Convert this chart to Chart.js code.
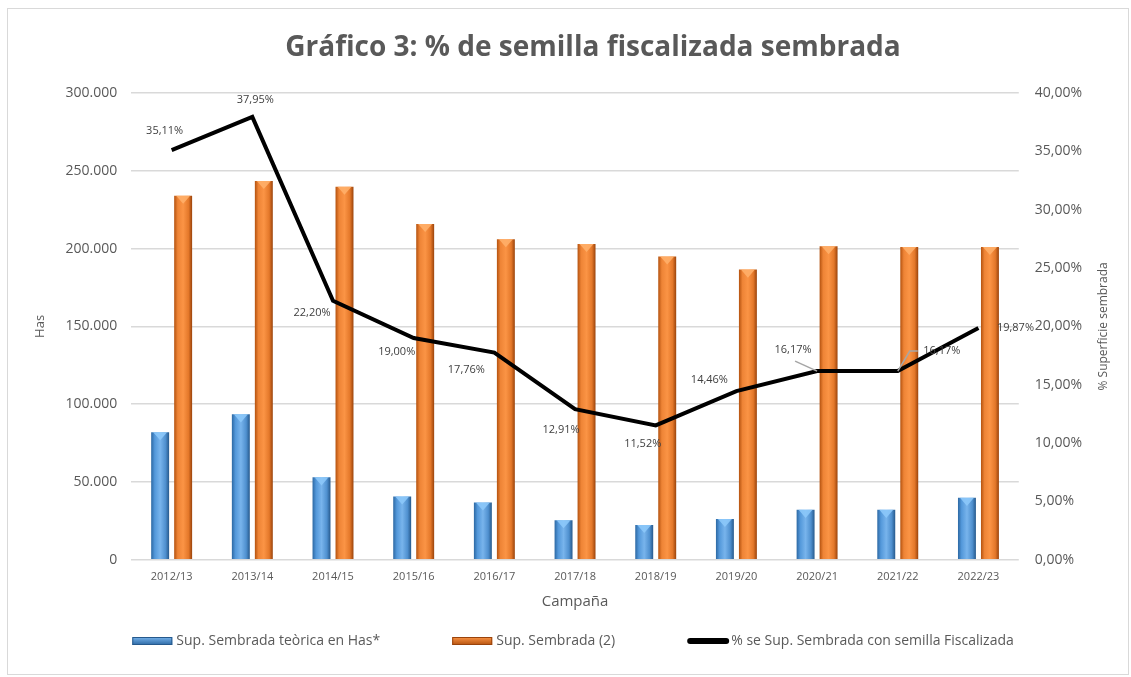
<!DOCTYPE html>
<html>
<head>
<meta charset="utf-8">
<script src="https://cdn.jsdelivr.net/npm/chart.js@4"></script>
<style>
  html, body { margin: 0; padding: 0; background: #fff; }
  #wrap { position: absolute; left: 7px; top: 8px; width: 1122px; height: 667px; border: 1px solid #d9d9d9; box-sizing: border-box; }
  #chart { position: absolute; left: -8px; top: -9px; }
</style>
</head>
<body>
<div id="wrap"><canvas id="chart" width="1131" height="677"></canvas></div>
<script>
const campanas = ['2012/13', '2013/14', '2014/15', '2015/16', '2016/17', '2017/18', '2018/19', '2019/20', '2020/21', '2021/22', '2022/23'];
const supTeorica = [82000, 93500, 53000, 40700, 36800, 25400, 22400, 26300, 32100, 32100, 39800];
const supSembrada = [234000, 243500, 239800, 215800, 206000, 203000, 195000, 186500, 201500, 201000, 201000];
const pctFiscalizada = [35.11, 37.95, 22.20, 19.00, 17.76, 12.91, 11.52, 14.46, 16.17, 16.17, 19.87];

// label offsets for the % line (pixels from the point)
const labelOffsets = [[-7, -19], [3, -17], [-21, 12], [-17, 14], [-28, 17], [-14, 21], [-13, 18], [-27, -11], [-24, -21], [44, -20], [37, 0]];

const grey = '#595959';
const font = '"Open Sans", sans-serif';

function fmtMiles(v) {
  return v === 0 ? '0' : v.toLocaleString('de-DE');
}
function fmtPct(v, d) {
  return v.toFixed(d).replace('.', ',') + '%';
}

const barCols = [
  ['#2c68a3', '#5398da', '#78b4ec', '#4f90cf', '#26598c'],
  ['#b4520f', '#ee8436', '#fb9445', '#e4782a', '#9a430b']
];

// bevelled-looking bars: horizontal gradient + light triangle on top
const bevelBars = {
  id: 'bevelBars',
  beforeDatasetDraw(chart, args) {
    const meta = args.meta;
    if (meta.type !== 'bar') return;
    const ctx = chart.ctx;
    const cols = barCols[args.index];
    meta.data.forEach(el => {
      const g = ctx.createLinearGradient(el.x - el.width / 2, 0, el.x + el.width / 2, 0);
      g.addColorStop(0, cols[0]);
      g.addColorStop(0.2, cols[1]);
      g.addColorStop(0.5, cols[2]);
      g.addColorStop(0.8, cols[3]);
      g.addColorStop(1, cols[4]);
      el.options.backgroundColor = g;
    });
  },
  afterDatasetDraw(chart, args) {
    const meta = args.meta;
    if (meta.type !== 'bar') return;
    const ctx = chart.ctx;
    ctx.save();
    ctx.fillStyle = args.index === 0 ? 'rgba(140,200,250,0.9)' : 'rgba(255,175,105,0.9)';
    meta.data.forEach(el => {
      const l = el.x - el.width / 2, r = el.x + el.width / 2;
      ctx.beginPath();
      ctx.moveTo(l + 2, el.y);
      ctx.lineTo(r - 2, el.y);
      ctx.lineTo(el.x, el.y + el.width * 0.45);
      ctx.closePath();
      ctx.fill();
    });
    ctx.restore();
  }
};

const lineLabels = {
  id: 'lineLabels',
  afterDatasetsDraw(chart) {
    const meta = chart.getDatasetMeta(2);
    const ctx = chart.ctx;
    ctx.save();
    ctx.font = '11px ' + font;
    ctx.fillStyle = '#404040';
    ctx.textAlign = 'center';
    ctx.textBaseline = 'middle';
    meta.data.forEach((pt, i) => {
      const [dx, dy] = labelOffsets[i];
      ctx.strokeStyle = '#a6a6a6';
      ctx.lineWidth = 1.5;
      if (i === 9) {
        ctx.beginPath();
        ctx.moveTo(pt.x, pt.y);
        ctx.lineTo(pt.x + 12, pt.y + dy);
        ctx.lineTo(pt.x + 20, pt.y + dy);
        ctx.stroke();
      }
      if (i === 8) {
        ctx.beginPath();
        ctx.moveTo(pt.x, pt.y);
        ctx.lineTo(pt.x - 22, pt.y - 10);
        ctx.stroke();
      }
      ctx.fillText(fmtPct(pctFiscalizada[i], 2), pt.x + dx, pt.y + dy);
    });
    ctx.restore();
  }
};

// title, right axis title and legend laid out like the Excel original
const titleLegend = {
  id: 'titleLegend',
  afterDraw(chart) {
    const ctx = chart.ctx;
    const area = chart.chartArea;
    ctx.save();
    ctx.fillStyle = grey;
    ctx.textAlign = 'center';
    ctx.textBaseline = 'middle';
    ctx.font = 'bold 28px ' + font;
    ctx.fillText('Gráfico 3: % de semilla fiscalizada sembrada', 593, 48);

    ctx.save();
    ctx.font = '12px ' + font;
    ctx.translate(1104, (area.top + area.bottom) / 2);
    ctx.rotate(-Math.PI / 2);
    ctx.fillText('% Superficie sembrada', 0, 0);
    ctx.restore();

    ctx.font = '14px ' + font;
    ctx.textAlign = 'left';
    let x = area.left + 1;
    const y = 641;
    chart.data.datasets.forEach((ds, i) => {
      if (i < 2) {
        const g = ctx.createLinearGradient(0, y - 4, 0, y + 4);
        g.addColorStop(0, barCols[i][2]);
        g.addColorStop(1, barCols[i][0]);
        ctx.fillStyle = g;
        ctx.fillRect(x, y - 4, 40, 8);
        ctx.strokeStyle = barCols[i][4];
        ctx.lineWidth = 1;
        ctx.strokeRect(x + 0.5, y - 3.5, 39, 7);
      } else {
        ctx.strokeStyle = '#000';
        ctx.lineWidth = 6;
        ctx.lineCap = 'round';
        ctx.beginPath();
        ctx.moveTo(x + 3, y);
        ctx.lineTo(x + 39, y);
        ctx.stroke();
      }
      ctx.fillStyle = grey;
      ctx.fillText(ds.label, x + 44, y);
      x += 44 + ctx.measureText(ds.label).width + 72;
    });
    ctx.restore();
  }
};

new Chart(document.getElementById('chart'), {
  data: {
    labels: campanas,
    datasets: [
      {
        type: 'bar',
        label: 'Sup. Sembrada teòrica en Has*',
        data: supTeorica,
        backgroundColor: () => barCols[0][3],
        borderWidth: 0,
        barPercentage: 0.78,
        categoryPercentage: 0.57,
        yAxisID: 'y',
        order: 2
      },
      {
        type: 'bar',
        label: 'Sup. Sembrada (2)',
        data: supSembrada,
        backgroundColor: () => barCols[1][3],
        borderWidth: 0,
        barPercentage: 0.78,
        categoryPercentage: 0.57,
        yAxisID: 'y',
        order: 2
      },
      {
        type: 'line',
        label: '% se Sup. Sembrada con semilla Fiscalizada',
        data: pctFiscalizada,
        borderColor: '#000',
        backgroundColor: '#000',
        borderWidth: 4,
        pointRadius: 0,
        tension: 0,
        yAxisID: 'y1',
        order: 1
      }
    ]
  },
  options: {
    responsive: false,
    animation: false,
    layout: { padding: { left: 28, right: 33, top: 93, bottom: 62 } },
    plugins: {
      title: { display: false },
      legend: { display: false },
      tooltip: { enabled: false }
    },
    scales: {
      x: {
        grid: { display: false, drawTicks: false },
        border: { display: false },
        ticks: { color: grey, font: { family: font, size: 11 }, maxRotation: 0, padding: 10 },
        title: { display: true, text: 'Campaña', color: grey, font: { family: font, size: 15 }, padding: { top: 0, bottom: 4 } }
      },
      y: {
        position: 'left',
        min: 0,
        max: 300000,
        grid: { color: '#d9d9d9', lineWidth: 1.5, drawTicks: false },
        border: { display: false },
        ticks: { stepSize: 50000, color: grey, font: { family: font, size: 14 }, padding: 14, callback: v => fmtMiles(v) },
        title: { display: true, text: 'Has', color: grey, font: { family: font, size: 13 }, padding: { top: 4, bottom: 4 } }
      },
      y1: {
        position: 'right',
        min: 0,
        max: 40,
        grid: { display: false, drawTicks: false },
        border: { display: false },
        ticks: { stepSize: 5, color: grey, font: { family: font, size: 14 }, padding: 16, callback: v => fmtPct(v, 2) }
      }
    }
  },
  plugins: [bevelBars, lineLabels, titleLegend]
});
</script>
</body>
</html>
